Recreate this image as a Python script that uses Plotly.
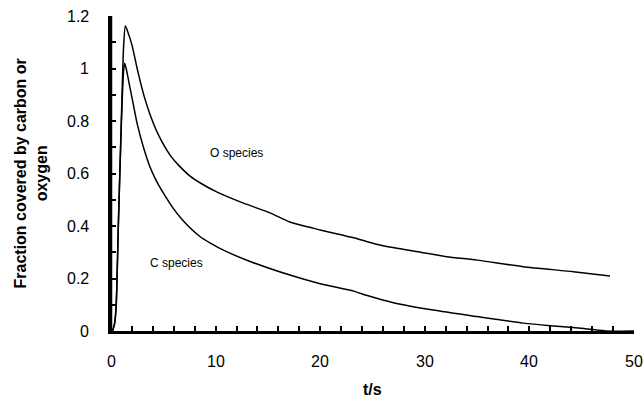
import plotly.graph_objects as go

# C species
t_c = [0.15, 0.35, 0.5, 0.7, 1.0, 1.2, 1.3, 1.45, 1.7, 2.1, 2.5, 3.1, 3.73, 4.3, 5.0, 5.9, 6.9, 8.5,
       9.5, 10.9, 13.3, 17.1, 20.0, 23.2, 24.5, 27.0, 30.8, 35.0, 39.4, 42.0, 45.2, 47.5, 50.0]
y_c = [0.0, 0.03, 0.1, 0.4, 0.8, 0.99, 1.02, 1.0, 0.95, 0.87, 0.79, 0.70, 0.625, 0.575, 0.526, 0.47, 0.42, 0.36,
       0.335, 0.305, 0.265, 0.213, 0.18, 0.152, 0.135, 0.108, 0.08, 0.055, 0.03, 0.02, 0.01, 0.0, 0.0]

# O species
t_o = [0.15, 0.35, 0.5, 0.7, 1.0, 1.2, 1.37, 1.6, 2.0, 2.5, 2.8, 3.2, 3.73, 4.5, 5.65, 6.5, 7.56, 8.7, 10.1,
       12.6, 15.2, 17.1, 20.0, 23.2, 24.5, 26.0, 29.6, 32.1, 35.0, 39.4, 44.2, 47.7]
y_o = [0.0, 0.03, 0.1, 0.4, 0.82, 1.08, 1.162, 1.14, 1.09, 1.0, 0.95, 0.89, 0.825, 0.75, 0.67, 0.63, 0.59, 0.56, 0.53,
       0.488, 0.45, 0.415, 0.385, 0.355, 0.34, 0.325, 0.30, 0.283, 0.27, 0.245, 0.226, 0.21]

# tick positions and labels
x_tick_vals = list(range(0, 51, 2))
x_label_vals = [0, 10, 20, 30, 40, 50]
x_label_text = ["0", "10", "20", "30", "40", "50"]
y_tick_vals = [i / 10 for i in range(0, 13)]
y_label_vals = [0, 0.2, 0.4, 0.6, 0.8, 1.0, 1.2]
y_label_text = ["0", "0.2", "0.4", "0.6", "0.8", "1", "1.2"]

labels = ["O species", "C species"]
label_x = [12.0, 6.3]
label_y = [0.68, 0.26]

FONT = "Liberation Sans, Arial, sans-serif"

fig = go.Figure()
fig.add_trace(go.Scatter(x=t_o, y=y_o, mode="lines", line=dict(color="black", width=1.5, shape="spline", smoothing=0.6),
                         showlegend=False))
fig.add_trace(go.Scatter(x=t_c, y=y_c, mode="lines", line=dict(color="black", width=1.5, shape="spline", smoothing=0.6),
                         showlegend=False))

for txt, lx, ly in zip(labels, label_x, label_y):
    fig.add_annotation(x=lx, y=ly, xref="x", yref="y", text=txt, showarrow=False,
                       font=dict(family=FONT, size=12, color="black"))

# tick labels placed further from the axes (as in the reference)
for txt, yv in zip(y_label_text, y_label_vals):
    fig.add_annotation(x=-0.038, y=yv, xref="paper", yref="y", text=txt, showarrow=False,
                       xanchor="right", yanchor="middle",
                       font=dict(family=FONT, size=16, color="black"))
for txt, xv in zip(x_label_text, x_label_vals):
    fig.add_annotation(x=xv, y=-0.098, xref="x", yref="paper", text=txt, showarrow=False,
                       xanchor="center", yanchor="middle",
                       font=dict(family=FONT, size=16, color="black"))

fig.add_annotation(x=-0.153, y=0.5, xref="paper", yref="paper",
                   text="<b>Fraction covered by carbon or<br>oxygen</b>", textangle=-90,
                   showarrow=False, font=dict(family=FONT, size=16, color="black"),
                   xanchor="center", yanchor="middle")

fig.add_annotation(x=0.5, y=-0.185, xref="paper", yref="paper", text="<b>t/s</b>",
                   showarrow=False, font=dict(family=FONT, size=16, color="black"),
                   xanchor="center", yanchor="middle")

# left axis line (guaranteed visible)
fig.add_shape(type="line", xref="paper", yref="paper", x0=0, x1=0, y0=0, y1=1,
              line=dict(color="black", width=2.5), layer="above")

fig.update_layout(
    width=643, height=398,
    margin=dict(l=111, r=9, t=16, b=67),
    paper_bgcolor="white", plot_bgcolor="white",
    font=dict(family=FONT, size=16, color="black"),
    xaxis=dict(range=[0, 50], tickmode="array", tickvals=x_tick_vals, showticklabels=False,
               ticks="inside", ticklen=5, tickwidth=2,
               tickcolor="black", showline=True, linecolor="black", linewidth=2.5, showgrid=False,
               zeroline=False, automargin=False),
    yaxis=dict(range=[0, 1.2], tickmode="array", tickvals=y_tick_vals,
               ticktext=["" for _ in y_tick_vals],
               ticks="inside", ticklen=5, tickwidth=2, tickcolor="black", showline=True,
               linecolor="black", linewidth=2.5, showgrid=False, zeroline=False, automargin=False),
)

fig.write_html("out.html")
